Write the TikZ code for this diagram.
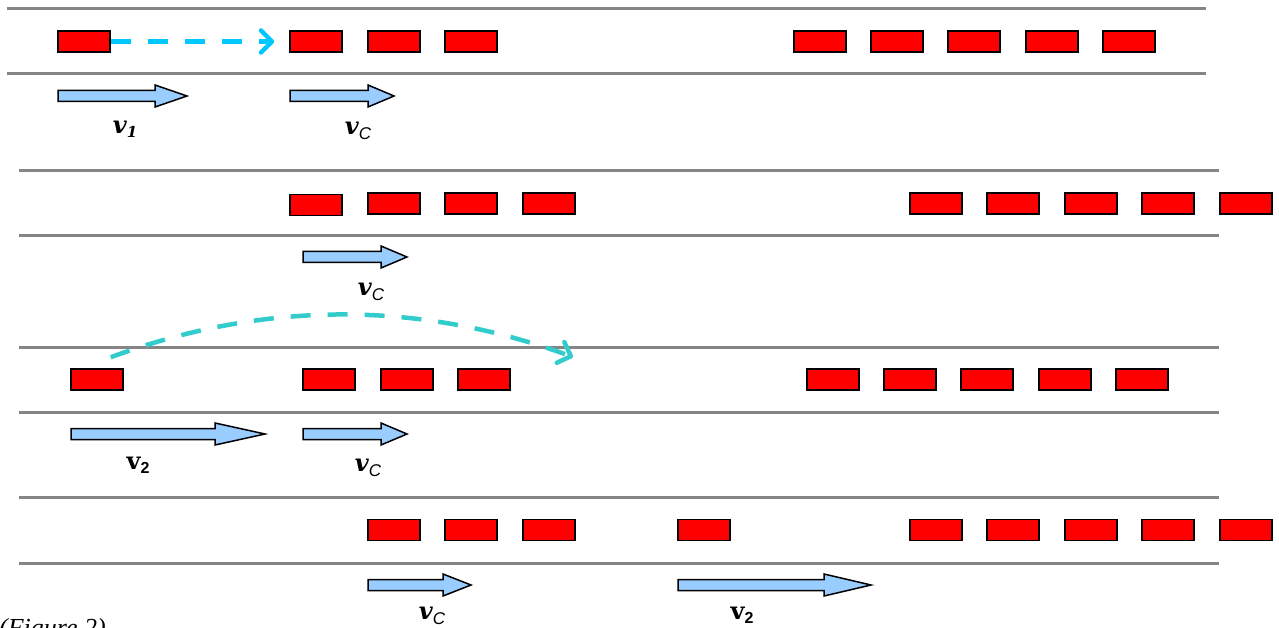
\documentclass[tikz,border=0pt]{standalone}
\usepackage{fontspec}
\setmainfont{Liberation Serif}
\newfontfamily\vserif{DejaVu Serif}
\newfontfamily\vsans{Liberation Sans}
\usetikzlibrary{arrows.meta}

\definecolor{roadgray}{HTML}{858585}
\definecolor{carred}{HTML}{FF0000}
\definecolor{velblue}{HTML}{99CCFF}
\definecolor{jumpblue}{HTML}{00C8FF}
\definecolor{jumpteal}{HTML}{33CCCC}

% velocity block arrow: start x, tip x, centre y, head length
\newcommand\velarrow[4]{%
  \draw[velshape] (#1,#3-5.5) -- (#2-#4,#3-5.5) -- (#2-#4,#3-11) -- (#2,#3)
    -- (#2-#4,#3+11) -- (#2-#4,#3+5.5) -- (#1,#3+5.5) -- cycle;}
% velocity labels
\newcommand\vsubit[1]{{\vserif\bfseries\itshape v\raisebox{-0.35ex}{\fontsize{15}{15}\selectfont #1}}}
\newcommand\vsubC{{\vserif\bfseries\itshape v\raisebox{-0.35ex}{\vsans\mdseries\itshape\fontsize{17}{17}\selectfont C}}}
\newcommand\vsubup[1]{{\vserif\bfseries v\raisebox{-0.35ex}{\vsans\bfseries\fontsize{16}{16}\selectfont #1}}}

\begin{document}
\begin{tikzpicture}[x=1pt,y=-1pt,
  road/.style={draw=roadgray,line width=3pt},
  car/.style={draw=black,fill=carred,line width=1.5pt,rectangle,
    minimum width=52pt,minimum height=21pt,inner sep=0pt},
  velshape/.style={draw=black,fill=velblue,line width=1.5pt,line join=miter},
  vlabel/.style={inner sep=0pt,font=\fontsize{24}{24}\selectfont},
  jump/.style={line width=4.5pt,dash pattern=on 20pt off 17pt,
    -{Straight Barb[length=11pt,width=22pt,line cap=round,line join=round]}}]
\useasboundingbox (0,0) rectangle (1279,628);

% ---------- lane 1 ----------
\draw[road] (7,9) -- (1206,9);
\draw[road] (7,74) -- (1206,74);
\foreach \x/\n in {84/a1,316/a2,394/a3,471/a4,820/a5,897/a6,974/a7,1052/a8,1129/a9}
  \node[car] (\n) at (\x,41.5) {};
\draw[jump,draw=jumpblue] (a1.east) -- ([xshift=-15pt]a2.west);
\velarrow{58}{187}{96}{32}
\velarrow{290}{394}{96}{26}
\node[vlabel] (lv1) at (125,129) {\vsubit{1}};
\node[vlabel] (lvc1) at (358,131) {\vsubC};

% ---------- lane 2 ----------
\draw[road] (19,171) -- (1219,171);
\draw[road] (19,236) -- (1219,236);
\node[car] (b1) at (316,205) {};
\foreach \x/\n in {394/b2,471/b3,549/b4,936/b5,1013/b6,1091/b7,1168/b8,1246/b9}
  \node[car] (\n) at (\x,203.5) {};
\velarrow{303}{407}{257}{26}
\node[vlabel] (lvc2) at (371,292) {\vsubC};

% ---------- lane 3 ----------
\draw[road] (19,347) -- (1219,347);
\draw[road] (19,412) -- (1219,412);
\foreach \x/\n in {97/c1,329/c2,407/c3,484/c4,833/c5,910/c6,987/c7,1065/c8,1142/c9}
  \node[car] (\n) at (\x,379.5) {};
\coordinate (jumpstart) at ([shift={(-13,-11)}]c1.north east);
\coordinate (jumpend) at (573,357);
\draw[jump,draw=jumpteal] (jumpstart) .. controls (263,301) and (417,300) .. (jumpend);
\velarrow{71}{265}{434}{50}
\velarrow{303}{407}{434}{26}
\node[vlabel] (lv2a) at (138,465) {\vsubup{2}};
\node[vlabel] (lvc3) at (368,468) {\vsubC};

% ---------- lane 4 ----------
\draw[road] (19,497) -- (1219,497);
\draw[road] (19,563) -- (1219,563);
\foreach \x/\n in {394/d1,471/d2,549/d3,704/d4,936/d5,1013/d6,1091/d7,1168/d8,1246/d9}
  \node[car] (\n) at (\x,530) {};
\velarrow{368}{471}{585}{28}
\velarrow{678}{871}{585}{47}
\node[vlabel] (lvc4) at (432,616) {\vsubC};
\node[vlabel] (lv2b) at (742,615) {\vsubup{2}};

% caption, partly cut by the page edge
\node[anchor=base west,inner sep=0pt,font=\fontsize{26}{26}\selectfont\itshape] (cap) at (-1,636) {(Figure 2)};
\end{tikzpicture}
\end{document}
